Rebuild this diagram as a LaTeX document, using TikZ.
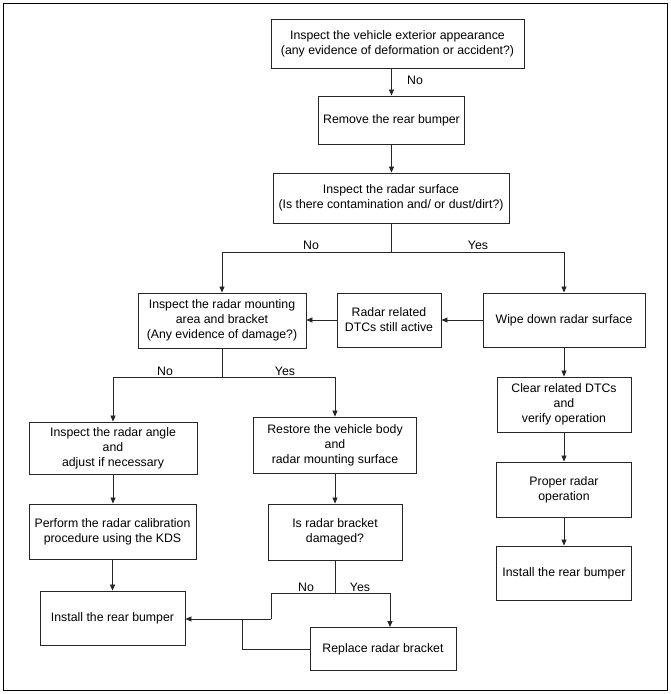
\documentclass[tikz,border=0pt]{standalone}
\usepackage{fontspec}
\setmainfont{Liberation Sans}
\usetikzlibrary{arrows.meta}
\begin{document}
\begin{tikzpicture}[x=1pt,y=-1pt,
 box/.style={draw=black!85, line width=0.9pt, align=center, inner sep=1pt, font=\fontsize{12.3}{15}\selectfont},
 lbl/.style={font=\fontsize{12.3}{15}\selectfont, inner sep=0pt},
 arr/.style={draw=black!85, line width=0.8pt, -{Triangle[length=6pt,width=5pt]}},
 ln/.style={draw=black!85, line width=0.8pt}]
\useasboundingbox (0,0) rectangle (671,694);
\draw[line width=1pt] (3,3) rectangle (667,690);

\node[box, minimum width=253pt, minimum height=49pt] (b1) at (397.5,43.5) {Inspect the vehicle exterior appearance\\(any evidence of deformation or accident?)};
\node[box, minimum width=146pt, minimum height=48pt] (b2) at (391.5,120) {Remove the rear bumper};
\node[box, minimum width=236pt, minimum height=50pt] (b3) at (391,198) {Inspect the radar surface\\(Is there contamination and/ or dust/dirt?)};
\node[box, minimum width=168pt, minimum height=55pt] (mount) at (222,320.5) {Inspect the radar mounting\\area and bracket\\(Any evidence of damage?)};
\node[box, minimum width=104pt, minimum height=54pt] (dtc) at (389,320) {Radar related\\DTCs still active};
\node[box, minimum width=162pt, minimum height=54pt] (wipe) at (564,320) {Wipe down radar surface};
\node[box, minimum width=134pt, minimum height=55pt] (clear) at (564,404.5) {Clear related DTCs\\and\\verify operation};
\node[box, minimum width=168pt, minimum height=52pt] (angle) at (113,448) {Inspect the radar angle\\and\\adjust if necessary};
\node[box, minimum width=163pt, minimum height=56pt] (restore) at (335,445) {Restore the vehicle body\\and\\radar mounting surface};
\node[box, minimum width=167pt, minimum height=55pt] (perform) at (112.5,531.5) {Perform the radar calibration\\procedure using the KDS};
\node[box, minimum width=134pt, minimum height=56pt] (bracket) at (335,532) {Is radar bracket\\damaged?};
\node[box, minimum width=145pt, minimum height=54pt] (instL) at (112.5,618) {Install the rear bumper};
\node[box, minimum width=146pt, minimum height=43pt] (replace) at (383,649) {Replace radar bracket};
\node[box, minimum width=135pt, minimum height=55pt] (proper) at (564,489.5) {Proper radar\\operation};
\node[box, minimum width=135pt, minimum height=54pt] (instR) at (564,573) {Install the rear bumper};

\node[lbl] (no1) at (415,80) {No};
\node[lbl] (no2) at (311,245) {No};
\node[lbl] (yes2) at (478,245) {Yes};
\node[lbl] (no3) at (165,371) {No};
\node[lbl] (yes3) at (285,371) {Yes};
\node[lbl] (no4) at (306,587) {No};
\node[lbl] (yes4) at (360,587) {Yes};

\draw[arr] (b2.north |- b1.south) -- (b2.north);
\draw[arr] (b2.south) -- (b2.south |- b3.north);
\coordinate (j1) at (391,252);
\draw[ln] (b3.south) -- (j1);
\draw[arr] (j1) -| (mount.north);
\draw[arr] (j1) -| (wipe.north);
\draw[arr] (wipe.west) -- (dtc.east);
\draw[arr] (dtc.west) -- (dtc.west -| mount.east);
\draw[arr] (wipe.south) -- (clear.north);
\draw[arr] (clear.south) -- (proper.north);
\draw[arr] (proper.south) -- (instR.north);

\coordinate (j2) at (222,377);
\draw[ln] (mount.south) -- (j2);
\draw[arr] (j2) -| (angle.north);
\draw[arr] (j2) -| (restore.north);
\draw[arr] (angle.south) -- (angle.south |- perform.north);
\draw[arr] (perform.south) -- (perform.south |- instL.north);
\draw[arr] (restore.south) -- (restore.south |- bracket.north);

\coordinate (j3) at (335,593);
\coordinate (j4) at (271,593);
\coordinate (j5) at (271,619);
\coordinate (j6) at (390,593);
\coordinate (j7) at (242,619);
\draw[ln] (bracket.south) -- (j3) -- (j4) -- (j5);
\draw[arr] (j5) -- (j5 -| instL.east);
\draw[arr] (j3) -- (j6) -- (j6 |- replace.north);
\draw[ln] (replace.west) -| (j7);
\end{tikzpicture}
\end{document}
